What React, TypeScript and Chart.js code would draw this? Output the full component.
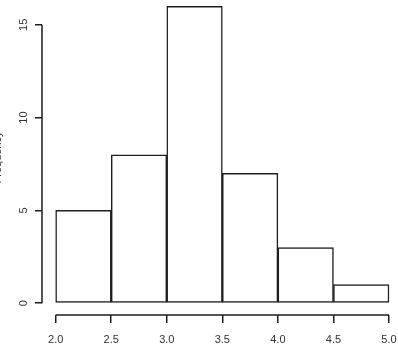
import React, { useEffect, useRef } from "react";
import { Chart, registerables } from "chart.js";

Chart.register(...registerables);

const binEdges = [2.0, 2.5, 3.0, 3.5, 4.0, 4.5, 5.0];
const counts = [5, 8, 16, 7, 3, 1];
const xTicks = [2.0, 2.5, 3.0, 3.5, 4.0, 4.5, 5.0];
const yTicks = [0, 5, 10, 15];
const yTitle = "Frequency";

const INK = "#1e1e1e";
const TEXT = "#333";
const FONT = "'Liberation Sans', Arial, Helvetica, sans-serif";
const LW = 1.5;

const rAxisLines = {
  id: "rAxisLines",
  afterDraw(chart: any) {
    const { ctx, chartArea, scales } = chart;
    const x = scales.x;
    const y = scales.y;
    ctx.save();
    ctx.strokeStyle = INK;
    ctx.lineWidth = LW;
    ctx.beginPath();
    ctx.moveTo(x.getPixelForValue(xTicks[0]), chartArea.bottom);
    ctx.lineTo(x.getPixelForValue(xTicks[xTicks.length - 1]), chartArea.bottom);
    ctx.moveTo(chartArea.left, y.getPixelForValue(yTicks[0]));
    ctx.lineTo(chartArea.left, y.getPixelForValue(yTicks[yTicks.length - 1]));
    ctx.stroke();
    ctx.restore();
  },
};

export default function App() {
  const ref = useRef<HTMLCanvasElement | null>(null);

  useEffect(() => {
    if (!ref.current) return;
    const data = counts.map((c, i) => ({ x: (binEdges[i] + binEdges[i + 1]) / 2, y: c }));
    const chart = new Chart(ref.current, {
      type: "bar",
      data: {
        datasets: [
          {
            data,
            backgroundColor: "#ffffff",
            borderColor: INK,
            borderWidth: LW,
            borderSkipped: false,
            barPercentage: 1,
            categoryPercentage: 1,
          } as any,
        ],
      },
      options: {
        animation: false,
        responsive: false,
        devicePixelRatio: 1,
        layout: { padding: 0 },
        plugins: { legend: { display: false }, tooltip: { enabled: false } },
        scales: {
          x: {
            type: "linear",
            position: "bottom",
            min: 1.877,
            max: 5.081,
            offset: false,
            grid: {
              display: true,
              drawOnChartArea: false,
              drawTicks: true,
              tickLength: 8,
              color: INK,
              lineWidth: LW,
              offset: false,
            },
            border: { display: false },
            ticks: {
              color: TEXT,
              font: { family: FONT, size: 11 },
              padding: 10,
              maxRotation: 0,
              minRotation: 0,
              callback: (v: any) => Number(v).toFixed(1),
            },
            afterBuildTicks: (s: any) => {
              s.ticks = xTicks.map((v) => ({ value: v }));
            },
            afterFit: (s: any) => {
              s.height = 49;
              s.paddingLeft = 0;
              s.paddingRight = 0;
              s.paddingTop = 0;
              s.paddingBottom = 0;
            },
          },
          y: {
            type: "linear",
            min: -0.64,
            max: 16.34,
            grid: {
              display: true,
              drawOnChartArea: false,
              drawTicks: true,
              tickLength: 7,
              color: INK,
              lineWidth: LW,
            },
            border: { display: false },
            ticks: {
              color: TEXT,
              font: { family: FONT, size: 11 },
              padding: 5,
              minRotation: 90,
              maxRotation: 90,
              crossAlign: "center",
              callback: (v: any) => String(v),
            },
            title: {
              display: true,
              text: yTitle,
              color: TEXT,
              font: { family: FONT, size: 11 },
              padding: { top: -9, bottom: 0 },
            },
            afterBuildTicks: (s: any) => {
              s.ticks = yTicks.map((v) => ({ value: v }));
            },
            afterFit: (s: any) => {
              s.width = 42;
              s.paddingLeft = 0;
              s.paddingRight = 0;
              s.paddingTop = 0;
              s.paddingBottom = 0;
            },
          },
        },
      } as any,
      plugins: [rAxisLines],
    });
    return () => chart.destroy();
  }, []);

  return (
    <div style={{ position: "fixed", left: 0, top: 0, width: 398, height: 364, overflow: "hidden", background: "#fff" }}>
      <canvas ref={ref} width={398} height={364} style={{ display: "block", width: 398, height: 364 }} />
    </div>
  );
}
